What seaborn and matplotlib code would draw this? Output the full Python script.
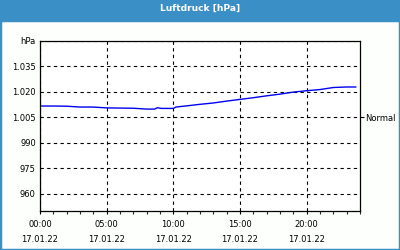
import matplotlib
matplotlib.use("Agg")
import matplotlib.pyplot as plt
import seaborn as sns
import pandas as pd
from matplotlib.ticker import MultipleLocator, FixedLocator
from matplotlib.patches import Rectangle

hours = [0, 1, 2, 3, 4, 5, 6, 7, 8, 8.6, 8.8, 9.1, 10, 10.2, 11, 12, 13, 14, 15, 16, 17, 18, 19, 20, 21, 22, 23, 23.7]
pressure = [1011.6, 1011.6, 1011.5, 1011.0, 1011.0, 1010.5, 1010.4, 1010.3, 1009.8, 1009.8, 1010.6, 1010.2,
            1010.2, 1011.0, 1011.7, 1012.6, 1013.4, 1014.5, 1015.5, 1016.5, 1017.6, 1018.6, 1019.8, 1020.6,
            1021.3, 1022.5, 1022.8, 1022.8]
x_ticks = [0, 5, 10, 15, 20]
x_labels = ["00:00\n17.01.22", "05:00\n17.01.22", "10:00\n17.01.22", "15:00\n17.01.22", "20:00\n17.01.22"]
y_ticks = [960, 975, 990, 1005, 1020, 1035, 1050]
y_labels = ["960", "975", "990", "1.005", "1.020", "1.035", "hPa"]
normal_value = [1005]
normal_label = ["Normal"]
title = "Luftdruck [hPa]"

df = pd.DataFrame({"h": hours, "p": pressure})

sns.set_style("white")
plt.rcParams["font.family"] = ["DejaVu Sans"]

fig = plt.figure(figsize=(4, 2.5), dpi=100)
fig.patch.set_facecolor("#fcfffc")
ax = fig.add_axes([0.1, 0.157, 0.8, 0.68])
ax.set_facecolor("#ffffff")

sns.lineplot(data=df, x="h", y="p", ax=ax, color="#0000ee", linewidth=1.0)

ax.set_xlim(0, 24)
ax.set_ylim(950, 1050)
ax.set_xticks(x_ticks)
ax.set_xticklabels(x_labels, linespacing=1.9)
ax.xaxis.set_minor_locator(MultipleLocator(1))
ax.set_yticks(y_ticks)
ax.set_yticklabels(y_labels)
ax.set_xlabel("")
ax.set_ylabel("")

ax.tick_params(axis="x", which="major", direction="out", length=2.5, width=0.8, labelsize=6, pad=4, colors="black", bottom=True)
ax.tick_params(axis="x", which="minor", direction="out", length=2.5, width=0.8, bottom=True)
ax.tick_params(axis="y", which="major", length=0, labelsize=6, pad=3, colors="black")

ax.grid(True, which="major", axis="both", color="black", linestyle=(0, (3, 3)), linewidth=0.8)
for s in ax.spines.values():
    s.set_color("black")
    s.set_linewidth(0.9)

ax2 = ax.twinx()
ax2.set_ylim(950, 1050)
ax2.yaxis.set_major_locator(FixedLocator(normal_value))
ax2.set_yticklabels(normal_label)
ax2.tick_params(axis="y", length=3, width=0.8, labelsize=6, pad=1, colors="black")
for s in ax2.spines.values():
    s.set_visible(False)

# title band and frame
fig.patches.append(Rectangle((0, 0.92), 1, 0.08, transform=fig.transFigure, color="#3a8fc7", zorder=0))
fig.patches.append(Rectangle((0, 0), 1, 0.92, transform=fig.transFigure, fill=False,
                             edgecolor="#3a8fc7", linewidth=2.5, zorder=0))
fig.text(0.5, 0.965, title, color="white", fontsize=6.6, fontweight="bold", ha="center", va="center")

fig.savefig("out.png", dpi=100, facecolor=fig.get_facecolor())
